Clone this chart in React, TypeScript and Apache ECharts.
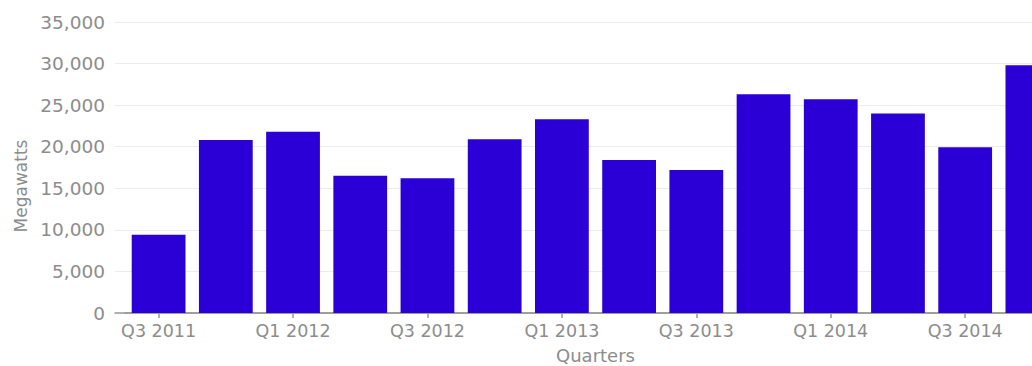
import React, { useEffect, useRef } from "react";
import * as echarts from "echarts";

const quarters = [
  "Q3 2011", "Q4 2011", "Q1 2012", "Q2 2012", "Q3 2012", "Q4 2012", "Q1 2013",
  "Q2 2013", "Q3 2013", "Q4 2013", "Q1 2014", "Q2 2014", "Q3 2014", "Q4 2014",
];
const megawatts = [
  9400, 20800, 21800, 16500, 16200, 20900, 23300,
  18400, 17200, 26300, 25700, 24000, 19950, 29800,
];
const yAxisName = "Megawatts";
const xAxisName = "Quarters";

const FONT = "'DejaVu Sans', sans-serif";
const GREY = "#8c8c8c";

export default function App() {
  const ref = useRef<HTMLDivElement>(null);
  useEffect(() => {
    if (!ref.current) return;
    const chart = echarts.init(ref.current, null, { renderer: "svg" });
    chart.setOption({
      animation: false,
      textStyle: { fontFamily: FONT },
      grid: [
        { left: 115, top: 22, width: 960, height: 291, containLabel: false, outerBoundsMode: "none" },
        { left: 125, top: 22, width: 941, height: 291, containLabel: false, outerBoundsMode: "none" },
      ],
      xAxis: [
        {
          gridIndex: 0,
          type: "category",
          data: [""],
          axisLine: { show: true, lineStyle: { color: "#999", width: 1.5 } },
          axisTick: { show: false },
          axisLabel: { show: false },
        },
        {
          gridIndex: 1,
          type: "category",
          data: quarters,
          axisLine: { show: true, lineStyle: { color: "#999", width: 1.5 } },
          axisTick: {
            show: true,
            interval: 1,
            alignWithLabel: true,
            length: 5,
            lineStyle: { color: "#999", width: 1.5 },
          },
          axisLabel: {
            interval: 1,
            color: GREY,
            fontSize: 17.5,
            margin: 9,
            fontFamily: FONT,
          },
          name: xAxisName,
          nameLocation: "middle",
          nameGap: 33,
          nameTextStyle: { color: GREY, fontSize: 18, fontFamily: FONT },
        },
      ],
      yAxis: [
        {
          gridIndex: 0,
          type: "value",
          min: 0,
          max: 35000,
          interval: 5000,
          axisLine: { show: false },
          axisTick: { show: false },
          axisLabel: {
            color: GREY,
            fontSize: 18.5,
            margin: 10,
            fontFamily: FONT,
            formatter: (v: number) => v.toLocaleString("en-US"),
          },
          splitLine: { show: true, lineStyle: { color: "#ececec", width: 1 } },
        },
        {
          gridIndex: 1,
          type: "value",
          min: 0,
          max: 35000,
          interval: 5000,
          show: false,
          splitLine: { show: false },
        },
      ],
      graphic: [
        {
          type: "text",
          x: 21,
          y: 186,
          rotation: Math.PI / 2,
          style: {
            text: yAxisName,
            fill: GREY,
            fontSize: 17,
            fontFamily: FONT,
            align: "center",
            verticalAlign: "middle",
          },
        },
      ],
      series: [
        {
          type: "bar",
          xAxisIndex: 1,
          yAxisIndex: 1,
          data: megawatts,
          barCategoryGap: "20%",
          itemStyle: { color: "#2a00d6" },
        },
      ],
    });
    return () => chart.dispose();
  }, []);
  return (
    <div
      style={{
        position: "fixed",
        left: 0,
        top: 0,
        width: 1032,
        height: 366,
        overflow: "hidden",
        background: "#fff",
      }}
    >
      <div ref={ref} style={{ width: 1100, height: 366 }} />
    </div>
  );
}
